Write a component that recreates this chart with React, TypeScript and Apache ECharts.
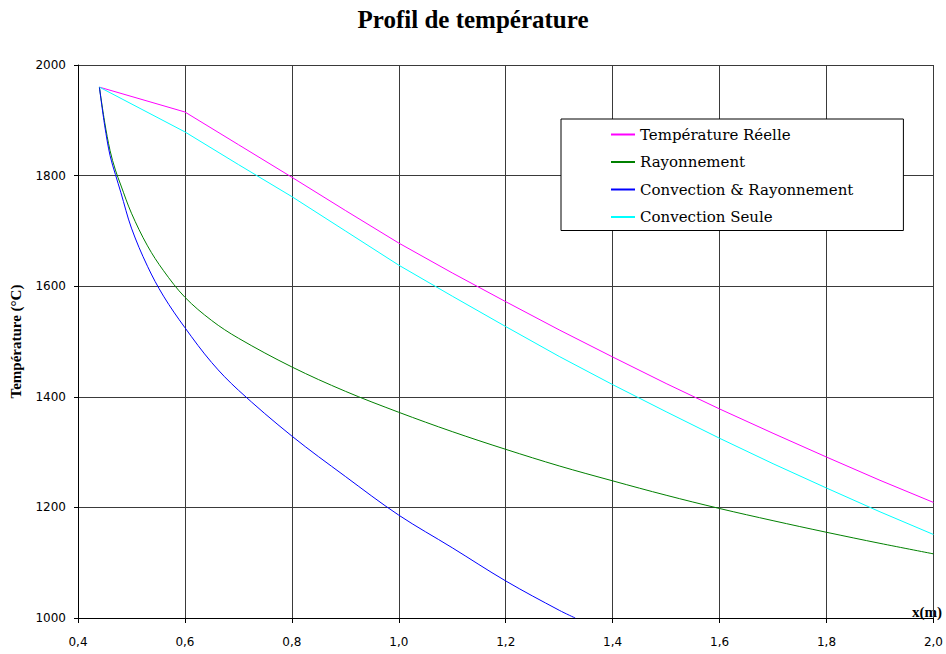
import React, { useEffect, useRef } from "react";
import * as echarts from "echarts";

const titleText = "Profil de température";
const yAxisName = "Température (°C)";
const xAxisName = "x(m)";

const seriesNames = [
  "Température Réelle",
  "Rayonnement",
  "Convection & Rayonnement",
  "Convection Seule",
];
const seriesColors = ["#ff00ff", "#008000", "#0000ff", "#00ffff"];

// Température Réelle & Convection Seule
const xStraight = [0.44, 0.6, 0.7, 0.8, 0.9, 1.0, 1.1, 1.2, 1.3, 1.4, 1.5, 1.6, 1.7, 1.8, 1.9, 2.0];
const tempReelle = [1960, 1915, 1856, 1797, 1737, 1678, 1624, 1572, 1521, 1472, 1424, 1378, 1334, 1291, 1249, 1209];
const convSeule = [1960, 1879, 1820, 1762, 1700, 1638, 1582, 1527, 1473, 1422, 1373, 1325, 1279, 1235, 1192, 1151];

// Rayonnement
const xRay = [0.44, 0.45, 0.46, 0.47, 0.48, 0.5, 0.53, 0.56, 0.6, 0.65, 0.7, 0.8, 0.9, 1.0, 1.1, 1.2, 1.3, 1.4, 1.5, 1.6, 1.7, 1.8, 1.9, 2.0];
const rayonnement = [1960, 1896, 1845, 1810, 1783, 1732, 1673, 1628, 1580, 1538, 1506, 1454, 1410, 1372, 1337, 1305, 1275, 1248, 1222, 1198, 1176, 1155, 1135, 1116];

// Convection & Rayonnement
const xConvRay = [0.44, 0.45, 0.46, 0.47, 0.48, 0.5, 0.53, 0.56, 0.6, 0.65, 0.7, 0.8, 0.9, 1.0, 1.1, 1.2, 1.3, 1.33];
const convRay = [1960, 1890, 1836, 1802, 1770, 1705, 1636, 1582, 1525, 1462, 1412, 1329, 1256, 1186, 1127, 1067, 1014, 1000];

const yMin = 1000;
const yMax = 2000;
const yStep = 200;
const xMin = 0.4;
const xMax = 2.0;
const xStep = 0.2;

const zip = (xs: number[], ys: number[]) => xs.map((x, i) => [x, ys[i]]);

export default function App() {
  const ref = useRef<HTMLDivElement>(null);
  useEffect(() => {
    if (!ref.current) return;
    const chart = echarts.init(ref.current, null, { renderer: "svg" });
    const dataSets = [
      { data: zip(xStraight, tempReelle), smooth: false },
      { data: zip(xRay, rayonnement), smooth: 0.35 },
      { data: zip(xConvRay, convRay), smooth: 0.35 },
      { data: zip(xStraight, convSeule), smooth: false },
    ];
    chart.setOption({
      animation: false,
      backgroundColor: "#ffffff",
      title: {
        text: titleText,
        left: "center",
        top: 2,
        textStyle: {
          fontFamily: "Liberation Serif",
          fontWeight: "bold",
          fontSize: 25,
          color: "#000",
        },
      },
      grid: { left: 78, right: 9, top: 65, bottom: 36 },
      legend: {
        orient: "vertical",
        left: 561,
        top: 119,
        icon: "rect",
        itemWidth: 24,
        itemHeight: 2,
        itemGap: 12.5,
        padding: [8, 50, 6, 50],
        backgroundColor: "#ffffff",
        borderColor: "#000",
        borderWidth: 1,
        borderRadius: 0,
        textStyle: {
          fontFamily: "DejaVu Serif",
          fontSize: 15,
          color: "#000",
        },
        data: seriesNames,
      },
      xAxis: {
        type: "value",
        min: xMin,
        max: xMax,
        interval: xStep,
        axisLine: { show: true, onZero: false, lineStyle: { color: "#000", width: 1 } },
        axisTick: { show: true, length: 5, lineStyle: { color: "#000" } },
        splitLine: { show: true, lineStyle: { color: "#3a3a3a", width: 1 } },
        axisLabel: {
          margin: 18,
          fontFamily: "DejaVu Sans",
          fontSize: 12,
          color: "#000",
          formatter: (v: number) => v.toFixed(1).replace(".", ","),
        },
      },
      yAxis: {
        type: "value",
        min: yMin,
        max: yMax,
        interval: yStep,
        name: yAxisName,
        nameLocation: "middle",
        nameRotate: 90,
        nameGap: 55,
        nameTextStyle: {
          fontFamily: "Liberation Serif",
          fontWeight: "bold",
          fontSize: 15,
          color: "#000",
        },
        axisLine: { show: true, lineStyle: { color: "#000", width: 1 } },
        axisTick: { show: true, length: 4, lineStyle: { color: "#000" } },
        splitLine: { show: true, lineStyle: { color: "#3a3a3a", width: 1 } },
        axisLabel: {
          margin: 12,
          fontFamily: "DejaVu Sans",
          fontSize: 12,
          color: "#000",
          formatter: (v: number) => String(v),
        },
      },
      graphic: [
        {
          type: "text",
          left: 912,
          top: 604,
          style: {
            text: xAxisName,
            font: "bold 15px 'Liberation Serif'",
            fill: "#000",
          },
        },
      ],
      series: dataSets.map((d, i) => ({
        name: seriesNames[i],
        type: "line",
        data: d.data,
        smooth: d.smooth,
        symbol: "none",
        showSymbol: false,
        clip: true,
        color: seriesColors[i],
        lineStyle: { color: seriesColors[i], width: 1 },
      })),
    });
    return () => chart.dispose();
  }, []);
  return (
    <div
      ref={ref}
      style={{ position: "fixed", left: 0, top: 0, width: 946, height: 654, background: "#fff" }}
    />
  );
}
